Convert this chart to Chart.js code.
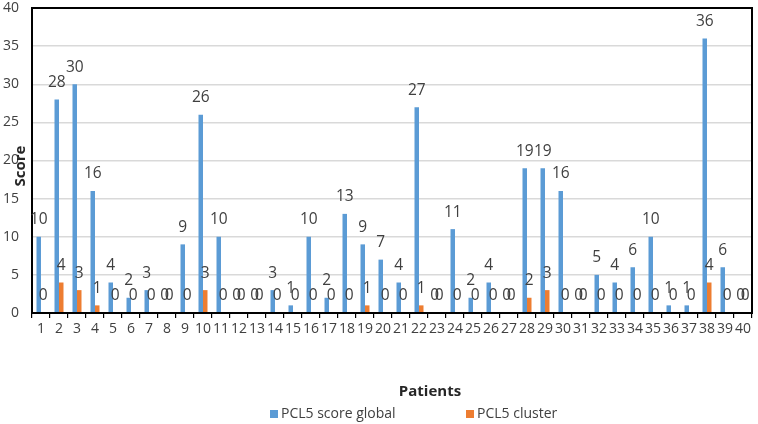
<!DOCTYPE html>
<html>
<head>
<meta charset="utf-8">
<script src="https://cdn.jsdelivr.net/npm/chart.js@4"></script>
<style>
  html, body { margin: 0; padding: 0; background: #fff; }
  #wrap { width: 758px; height: 424px; }
</style>
</head>
<body>
<div id="wrap"><canvas id="canvas1"></canvas></div>
<script>
// patients 1..40
const patients = Array.from({ length: 40 }, (_, i) => String(i + 1))

// PCL5 values
const scoreGlobal = [10, 28, 30, 16, 4, 2, 3, 0, 9, 26,
                     10, 0, 0, 3, 1, 10, 2, 13, 9, 7,
                     4, 27, 0, 11, 2, 4, 0, 19, 19, 16,
                     0, 5, 4, 6, 10, 1, 1, 36, 6, 0]
const scoreCluster = [0, 4, 3, 1, 0, 0, 0, 0, 0, 3,
                      0, 0, 0, 0, 0, 0, 0, 0, 1, 0,
                      0, 1, 0, 0, 0, 0, 0, 2, 3, 0,
                      0, 0, 0, 0, 0, 0, 0, 4, 0, 0]
const yTicks = [0, 5, 10, 15, 20, 25, 30, 35, 40]

const BLUE = "#5B9BD5"
const ORANGE = "#ED7D31"
const FONT = "'Open Sans', 'Liberation Sans', sans-serif"

// value labels, box border, axis titles and legend
const extras = {
    id: "extras",
    afterDraw(chart) {
        const ctx = chart.ctx
        const area = chart.chartArea
        ctx.save()
        // box around plot
        ctx.strokeStyle = "#000000"
        ctx.lineWidth = 2
        ctx.beginPath()
        ctx.rect(Math.round(area.left), Math.round(area.top), Math.round(area.right - area.left), Math.round(area.bottom - area.top))
        ctx.stroke()

        // data labels
        ctx.fillStyle = "#404040"
        ctx.font = "15.5px " + FONT
        ctx.textAlign = "center"
        ctx.textBaseline = "middle"
        chart.data.datasets.forEach((ds, i) => {
            chart.getDatasetMeta(i).data.forEach((bar, j) => {
                ctx.fillText(String(ds.data[j]), bar.x, bar.y - 17)
            })
        })

        // axis titles
        ctx.fillStyle = "#262626"
        ctx.font = "bold 15px " + FONT
        ctx.fillText("Patients", 430, 392)
        ctx.save()
        ctx.translate(21, 166)
        ctx.rotate(-Math.PI / 2)
        ctx.fillText("Score", 0, 0)
        ctx.restore()

        // legend
        ctx.font = "14px " + FONT
        ctx.textAlign = "left"
        const items = [[270, BLUE, "PCL5 score global"], [466, ORANGE, "PCL5 cluster"]]
        items.forEach(item => {
            ctx.fillStyle = item[1]
            ctx.fillRect(item[0], 410, 8, 8)
            ctx.fillStyle = "#404040"
            ctx.fillText(item[2], item[0] + 11, 414)
        })
        ctx.restore()
    }
}

const ctx = document.querySelector("#canvas1")
const myBarChart = new Chart(ctx, {
    type: "bar",
    data: {
        labels: patients,
        datasets: [
            { label: "PCL5 score global", data: scoreGlobal, backgroundColor: BLUE },
            { label: "PCL5 cluster", data: scoreCluster, backgroundColor: ORANGE }
        ]
    },
    options: {
        responsive: true,
        maintainAspectRatio: false,
        animation: false,
        layout: { padding: { top: 8, right: 6, left: 0, bottom: 0 } },
        datasets: {
            bar: { barPercentage: 1, categoryPercentage: 0.5 }
        },
        plugins: {
            legend: { display: false },
            tooltip: { enabled: false }
        },
        scales: {
            x: {
                grid: { drawOnChartArea: false, drawTicks: true, tickLength: 5, color: "#000", lineWidth: 1.2, offset: true },
                border: { color: "#000", width: 2 },
                ticks: {
                    autoSkip: false, maxRotation: 0, padding: 3,
                    color: "#404040", font: { family: FONT, size: 14 }
                },
                afterFit: scale => { scale.height = 111; scale.paddingLeft = 0; scale.paddingRight = 0 }
            },
            y: {
                min: 0, max: 40,
                afterBuildTicks: scale => { scale.ticks = yTicks.map(v => ({ value: v })) },
                grid: { color: "#d9d9d9", lineWidth: 1.5, drawTicks: false },
                border: { color: "#000", width: 2 },
                ticks: {
                    padding: 13, color: "#404040",
                    font: { family: FONT, size: 14 }
                },
                afterFit: scale => { scale.width = 32; scale.paddingTop = 0; scale.paddingBottom = 0 }
            }
        }
    },
    plugins: [extras]
});
</script>
</body>
</html>
